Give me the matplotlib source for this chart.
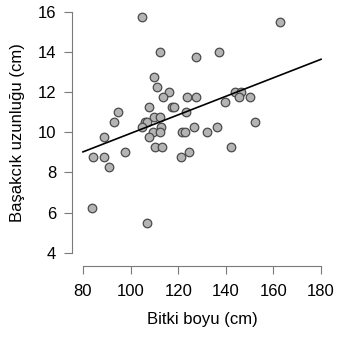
import numpy as np
import matplotlib
matplotlib.use("Agg")
import matplotlib.pyplot as plt

plt.rcParams['font.family'] = ['Liberation Sans', 'DejaVu Sans']

# plant height (cm) and spike length (cm)
bitki_boyu = [104.6, 112.4, 127.6, 137.3, 162.7, 110.0, 111.3, 116.1, 113.5, 123.8,
              127.4, 94.8, 107.6, 117.2, 118.4, 123.2, 93.1, 106.0, 107.0, 109.7,
              112.5, 104.6, 112.8, 109.4, 112.3, 121.7, 122.7, 126.7, 88.9, 107.8,
              97.6, 110.1, 113.0, 84.3, 88.9, 90.9, 121.0, 124.6, 144.0, 146.4,
              145.7, 150.2, 139.7, 132.0, 136.5, 152.4, 142.3, 83.6, 107.1]
basak_uzunlugu = [15.75, 13.98, 13.75, 13.98, 15.49, 12.75, 12.24, 11.99, 11.74, 11.74,
                  11.74, 11.0, 11.24, 11.24, 11.24, 11.0, 10.5, 10.5, 10.5, 10.75,
                  10.75, 10.25, 10.25, 10.0, 10.0, 10.0, 10.0, 10.25, 9.75, 9.75,
                  9.0, 9.25, 9.25, 8.76, 8.76, 8.27, 8.76, 9.0, 11.99, 11.99,
                  11.74, 11.74, 11.49, 10.0, 10.25, 10.5, 9.25, 6.23, 5.49]

# regression line (intercept, slope) and its x range
fit_coef = [5.332, 0.0461]
fit_x = [80, 180]

x_ticks = [80, 100, 120, 140, 160, 180]
y_ticks = [4, 6, 8, 10, 12, 14, 16]

W, H = 342, 338
fig = plt.figure(figsize=(W / 100, H / 100), dpi=100)
ax = fig.add_axes([72 / W, (H - 266) / H, (332 - 72) / W, (266 + 1.6) / H])
ax.set_xlim(75.4, 184.6)
ax.set_ylim(3.34, 16.66)

ax.scatter(bitki_boyu, basak_uzunlugu, s=38, facecolor='#b4b4b4',
           edgecolor='#4a4a4a', linewidth=0.9, zorder=3)

fx = np.array(fit_x)
ax.plot(fx, fit_coef[0] + fit_coef[1] * fx, color='black', lw=1.2, zorder=4)

for s in ['top', 'right']:
    ax.spines[s].set_visible(False)
ax.spines['left'].set_bounds(4, 16)
ax.spines['bottom'].set_bounds(80, 180)
for s in ['left', 'bottom']:
    ax.spines[s].set_color('#7a7a7a')
    ax.spines[s].set_linewidth(0.8)

ax.set_xticks(x_ticks)
ax.set_yticks(y_ticks)
ax.tick_params(axis='both', direction='out', length=6, width=0.8,
               color='#7a7a7a', labelsize=12)
ax.tick_params(axis='x', pad=7)
ax.tick_params(axis='y', pad=5.5)

ax.set_xlabel('Bitki boyu (cm)', fontsize=12, labelpad=9)
ax.set_ylabel('Başakcık uzunluğu (cm)', fontsize=12, labelpad=9)

fig.savefig('out.png', dpi=100)
